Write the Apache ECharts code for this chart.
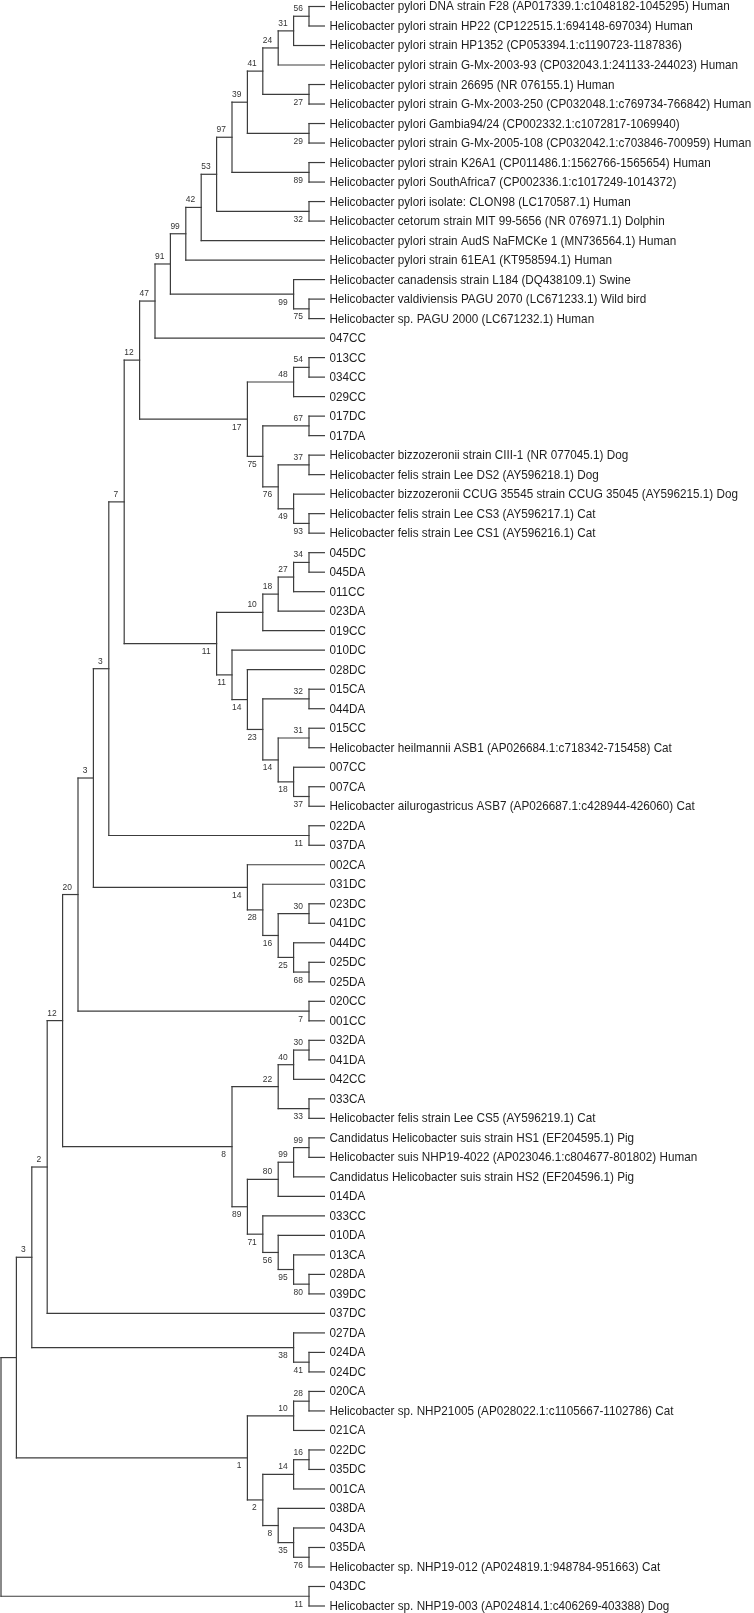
<!DOCTYPE html>
<html><head><meta charset="utf-8">
<script src="https://cdn.jsdelivr.net/npm/echarts@6/dist/echarts.min.js"></script>
<style>html,body{margin:0;padding:0;background:#fff}#c{width:754px;height:1613px}</style>
</head><body><div id="c"></div>
<script>
// ---- DATA ----
const leafNames = [
  "Helicobacter pylori DNA strain F28 (AP017339.1:c1048182-1045295) Human",
  "Helicobacter pylori strain HP22 (CP122515.1:694148-697034) Human",
  "Helicobacter pylori strain HP1352 (CP053394.1:c1190723-1187836)",
  "Helicobacter pylori strain G-Mx-2003-93 (CP032043.1:241133-244023) Human",
  "Helicobacter pylori strain 26695 (NR 076155.1) Human",
  "Helicobacter pylori strain G-Mx-2003-250 (CP032048.1:c769734-766842) Human",
  "Helicobacter pylori Gambia94/24 (CP002332.1:c1072817-1069940)",
  "Helicobacter pylori strain G-Mx-2005-108 (CP032042.1:c703846-700959) Human",
  "Helicobacter pylori strain K26A1 (CP011486.1:1562766-1565654) Human",
  "Helicobacter pylori SouthAfrica7 (CP002336.1:c1017249-1014372)",
  "Helicobacter pylori isolate: CLON98 (LC170587.1) Human",
  "Helicobacter cetorum strain MIT 99-5656 (NR 076971.1) Dolphin",
  "Helicobacter pylori strain AudS NaFMCKe 1 (MN736564.1) Human",
  "Helicobacter pylori strain 61EA1 (KT958594.1) Human",
  "Helicobacter canadensis strain L184 (DQ438109.1) Swine",
  "Helicobacter valdiviensis PAGU 2070 (LC671233.1) Wild bird",
  "Helicobacter sp. PAGU 2000 (LC671232.1) Human",
  "047CC","013CC","034CC","029CC","017DC","017DA",
  "Helicobacter bizzozeronii strain CIII-1 (NR 077045.1) Dog",
  "Helicobacter felis strain Lee DS2 (AY596218.1) Dog",
  "Helicobacter bizzozeronii CCUG 35545 strain CCUG 35045 (AY596215.1) Dog",
  "Helicobacter felis strain Lee CS3 (AY596217.1) Cat",
  "Helicobacter felis strain Lee CS1 (AY596216.1) Cat",
  "045DC","045DA","011CC","023DA","019CC","010DC","028DC","015CA","044DA","015CC",
  "Helicobacter heilmannii ASB1 (AP026684.1:c718342-715458) Cat",
  "007CC","007CA",
  "Helicobacter ailurogastricus ASB7 (AP026687.1:c428944-426060) Cat",
  "022DA","037DA","002CA","031DC","023DC","041DC","044DC","025DC","025DA","020CC","001CC",
  "032DA","041DA","042CC","033CA",
  "Helicobacter felis strain Lee CS5 (AY596219.1) Cat",
  "Candidatus Helicobacter suis strain HS1 (EF204595.1) Pig",
  "Helicobacter suis NHP19-4022 (AP023046.1:c804677-801802) Human",
  "Candidatus Helicobacter suis strain HS2 (EF204596.1) Pig",
  "014DA","033CC","010DA","013CA","028DA","039DC","037DC","027DA","024DA","024DC","020CA",
  "Helicobacter sp. NHP21005 (AP028022.1:c1105667-1102786) Cat",
  "021CA","022DC","035DC","001CA","038DA","043DA","035DA",
  "Helicobacter sp. NHP19-012 (AP024819.1:948784-951663) Cat",
  "043DC",
  "Helicobacter sp. NHP19-003 (AP024814.1:c406269-403388) Dog"
];

// Topology (Newick, leaves = index into leafNames, number after ')' = bootstrap)
const cladePylori = "(((((((((((0,1)56,2)31,3)24,(4,5)27)41,(6,7)29)39,(8,9)89)97,(10,11)32)53,12)42,13)99,(14,(15,16)75)99)91,17)47";
const cladeFelis = "(((18,19)54,20)48,((21,22)67,((23,24)37,(25,(26,27)93)49)76)75)17";
const cladeHeilmannii = "(((((28,29)34,30)27,31)18,32)10,(33,(34,((35,36)32,((37,38)31,(39,(40,41)37)18)14)23)14)11)11";
const cladeDC = "(44,(45,((46,47)30,(48,(49,50)68)25)16)28)14";
const cladeSuis = "((((53,54)30,55)40,(56,57)33)22,((((58,59)99,60)99,61)80,(62,(63,(64,(65,66)80)95)56)71)89)8";
const cladeNHP = "(((71,72)28,73)10,(((74,75)16,76)14,(77,(78,(79,80)76)35)8)2)1";

const treeNewick =
  "((((((((((" + cladePylori + "," + cladeFelis + ")12," + cladeHeilmannii + ")7,(42,43)11)3," +
  cladeDC + ")3,(51,52)7)20," + cladeSuis + ")12,67)2,(68,(69,70)41)38)3," + cladeNHP + "),(81,82)11)";

// ---- PARSE & LAYOUT ----
function parseNewick(str) {
  let i = 0;
  function node() {
    if (str[i] === '(') {
      i++;
      const children = [node()];
      while (str[i] === ',') { i++; children.push(node()); }
      i++; // ')'
      let lab = '';
      while (i < str.length && /[0-9]/.test(str[i])) lab += str[i++];
      return { children, support: lab === '' ? null : +lab };
    }
    let num = '';
    while (/[0-9]/.test(str[i])) num += str[i++];
    return { leaf: +num };
  }
  return node();
}
const root = parseNewick(treeNewick);
const nodes = [];
function layout(n, parent, pos) {
  if (n.children) {
    n.children.forEach((c, k) => layout(c, n, k === 0 ? 'first' : (k === n.children.length - 1 ? 'last' : 'mid')));
    n.h = 1 + Math.max(...n.children.map(c => c.h));
    n.y = (n.children[0].y + n.children[n.children.length - 1].y) / 2;
  } else {
    n.h = 0; n.y = n.leaf;
  }
  n.parent = parent; n.pos = pos;
  nodes.push(n);
}
layout(root, null, null);

const LINE = { stroke: '#3c3c3c', lineWidth: 1.2, lineCap: 'square' };
const LEAF_FONT = '12.6px "Liberation Sans", Arial, sans-serif';
const LEAF_SX = 0.93;
const BS_FONT = '9.2px "Liberation Sans", Arial, sans-serif';
const BS_SX = 0.92;

const chart = echarts.init(document.getElementById('c'), null, { renderer: 'canvas' });
chart.setOption({
  animation: false,
  backgroundColor: '#fff',
  grid: { left: 1, right: 429.6, top: 6.5, bottom: 7 },
  xAxis: { type: 'value', min: 0, max: root.h, inverse: true, show: false },
  yAxis: { type: 'value', min: 0, max: leafNames.length - 1, inverse: true, show: false },
  series: [{
    type: 'custom',
    clip: false,
    data: nodes.map(n => [n.h, n.y]),
    encode: { x: 0, y: 1 },
    renderItem: function (params, api) {
      const n = nodes[params.dataIndex];
      const p = api.coord([n.h, n.y]);
      const els = [];
      if (n.parent) {
        const pp = api.coord([n.parent.h, n.y]);
        els.push({ type: 'line', shape: { x1: pp[0], y1: p[1], x2: p[0], y2: p[1] }, style: LINE });
      }
      if (n.children) {
        const a = api.coord([n.h, n.children[0].y]);
        const b = api.coord([n.h, n.children[n.children.length - 1].y]);
        els.push({ type: 'line', shape: { x1: p[0], y1: a[1], x2: p[0], y2: b[1] }, style: LINE });
        if (n.support != null) {
          const below = n.pos === 'last';
          els.push({
            type: 'text', x: p[0] - 6, y: below ? p[1] + 3.5 : p[1] - 3, scaleX: BS_SX,
            style: { text: String(n.support), font: BS_FONT, fill: '#333', align: 'right', verticalAlign: below ? 'top' : 'bottom' }
          });
        }
      } else {
        els.push({
          type: 'text', x: p[0] + 5, y: p[1] + 0.5, scaleX: LEAF_SX,
          style: { text: leafNames[n.leaf], font: LEAF_FONT, fill: '#1e1e1e', align: 'left', verticalAlign: 'middle' }
        });
      }
      return { type: 'group', children: els };
    }
  }]
});
</script>
</body></html>
